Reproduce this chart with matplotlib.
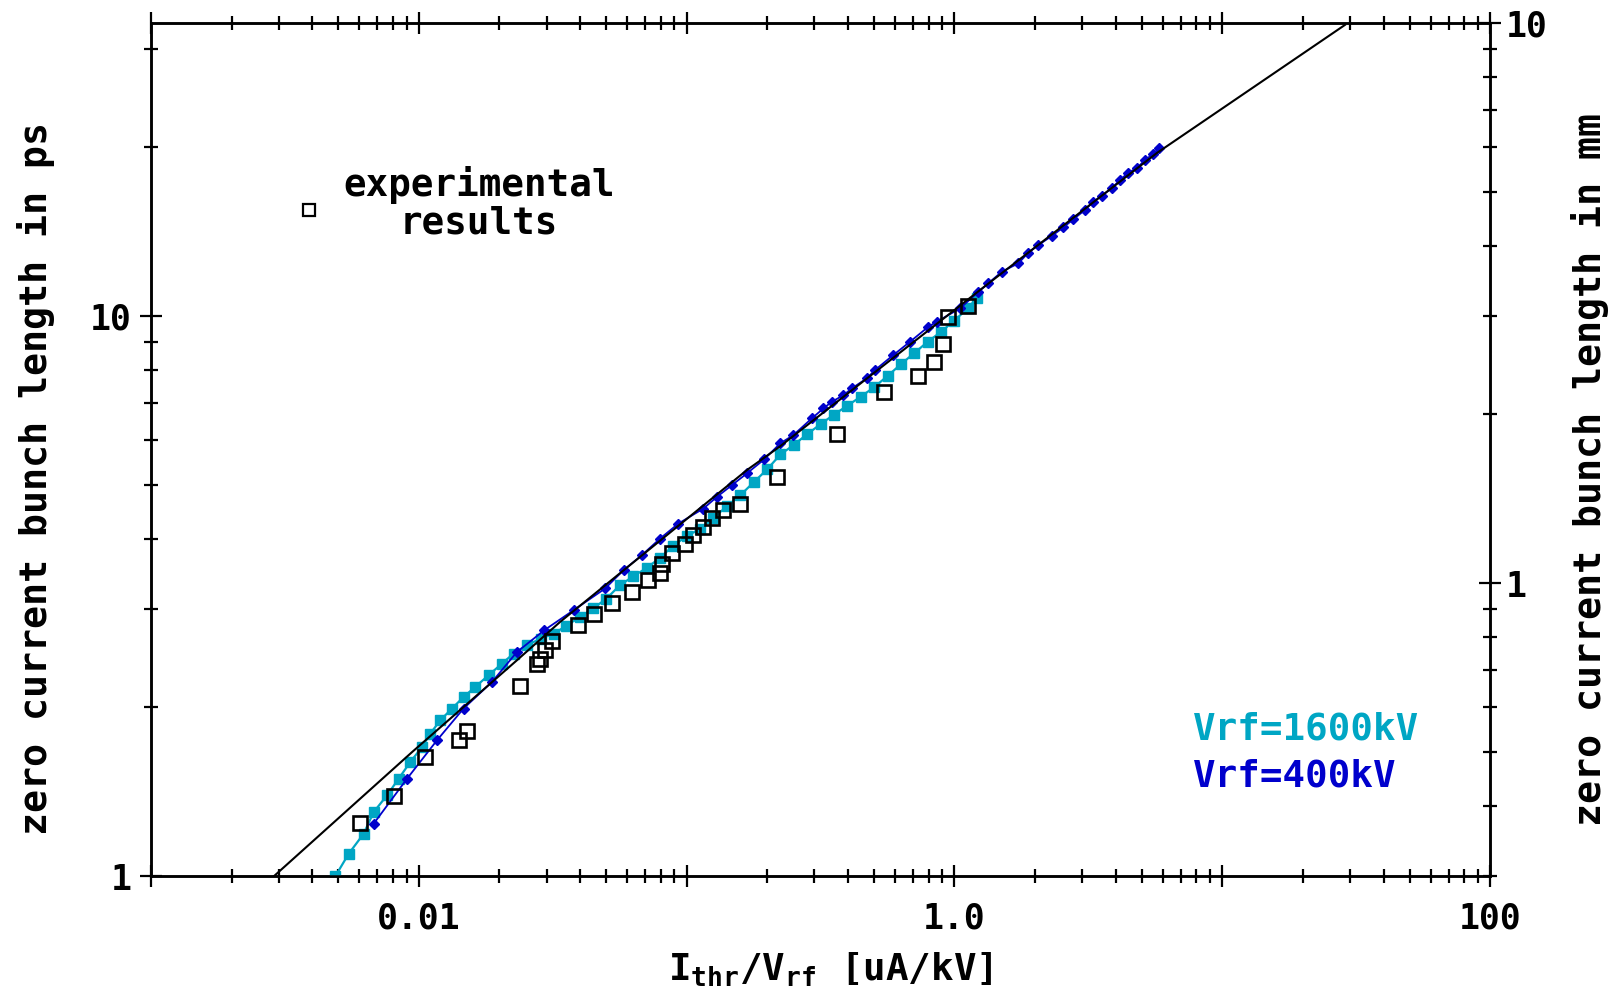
import matplotlib
matplotlib.use("Agg")
import matplotlib.pyplot as plt
from matplotlib.ticker import FixedLocator, FixedFormatter, NullFormatter, LogLocator

# ---------------- data ----------------
# theoretical curve (black)
theory_x = [0.00288, 0.00942, 0.0232, 0.0337, 0.168, 0.223, 1.246, 5.69, 28.7]
theory_y = [1.0, 1.664, 2.427, 2.844, 5.31, 5.85, 11.13, 19.54, 33.1]

# Vrf = 1600 kV (cyan)
cyan_x = [0.00488, 0.00547, 0.00622, 0.00678, 0.00760, 0.00840, 0.00929, 0.01027,
          0.01103, 0.01202, 0.01329, 0.01468, 0.01623, 0.01820, 0.02042, 0.02257,
          0.02532, 0.0285, 0.0320, 0.0355, 0.0398, 0.0447, 0.0501, 0.0562, 0.0631,
          0.0708, 0.0794, 0.0891, 0.100, 0.1122, 0.1259, 0.1413, 0.1585, 0.1778,
          0.1995, 0.2239, 0.2512, 0.2818, 0.3162, 0.3548, 0.3981, 0.4467, 0.5012,
          0.5623, 0.6310, 0.7079, 0.7943, 0.8913, 1.0, 1.122, 1.211]
cyan_y = [1.0, 1.096, 1.190, 1.301, 1.393, 1.492, 1.598, 1.699,
          1.796, 1.897, 1.991, 2.088, 2.176, 2.283, 2.395, 2.496,
          2.583, 2.655, 2.710, 2.799, 2.897, 3.006, 3.126, 3.304, 3.428,
          3.548, 3.698, 3.890, 4.046, 4.169, 4.365, 4.571, 4.786, 5.047,
          5.321, 5.66, 5.888, 6.152, 6.412, 6.668, 6.918, 7.178, 7.464,
          7.816, 8.204, 8.590, 8.995, 9.376, 9.817, 10.33, 10.76]

# Vrf = 400 kV (blue)
blue_x = [0.00678, 0.00903, 0.01168, 0.01468, 0.01875, 0.02323, 0.0294, 0.0378,
          0.0496, 0.0581, 0.0680, 0.0796, 0.0932, 0.1155, 0.1296, 0.1475, 0.1678,
          0.195, 0.2234, 0.2504, 0.2934, 0.3241, 0.3483, 0.3848, 0.4136, 0.4706,
          0.5053, 0.5913, 0.6829, 0.799, 0.859, 1.049, 1.228, 1.338, 1.502, 1.732,
          1.888, 2.057, 2.308, 2.551, 2.779, 3.073, 3.300, 3.548, 3.866, 4.152,
          4.459, 4.792, 5.147, 5.527, 5.82]
blue_y = [1.240, 1.492, 1.747, 1.991, 2.221, 2.512, 2.748, 2.983,
          3.262, 3.517, 3.741, 4.006, 4.261, 4.532, 4.753, 4.989, 5.236,
          5.55, 5.923, 6.13, 6.566, 6.84, 7.03, 7.22, 7.427, 7.74,
          8.01, 8.52, 9.00, 9.57, 9.77, 10.32, 11.05, 11.44, 12.0, 12.42,
          12.98, 13.39, 13.9, 14.4, 14.89, 15.47, 16.01, 16.39, 16.92, 17.50,
          18.04, 18.36, 19.0, 19.48, 19.94]

# experimental results (open squares)
exp_x = [0.00604, 0.00810, 0.01057, 0.01406, 0.01512, 0.0239, 0.0276, 0.0284,
         0.0296, 0.0315, 0.0394, 0.0449, 0.0526, 0.0624, 0.0720, 0.0796, 0.0808,
         0.0881, 0.0988, 0.1060, 0.1155, 0.1242, 0.1372, 0.1584, 0.2183, 0.3636,
         0.5460, 0.7295, 0.8413, 0.9043, 0.9489, 1.127]
exp_y = [1.243, 1.389, 1.631, 1.752, 1.815, 2.182, 2.388, 2.445,
         2.530, 2.626, 2.804, 2.934, 3.074, 3.216, 3.375, 3.478, 3.615,
         3.776, 3.914, 4.061, 4.203, 4.350, 4.502, 4.613, 5.163, 6.146,
         7.306, 7.82, 8.285, 8.900, 9.947, 10.43]

x_major = [0.001, 0.01, 0.1, 1, 10, 100]
x_labels = ['', '0.01', '', '1.0', '', '100']
y_major = [1, 10]
y_labels = ['1', '10']
mm_major = [1, 10]
mm_labels = ['1', '10']

C_MM_PER_PS = 0.29979
Y_TOP = 10 / C_MM_PER_PS

# ---------------- style ----------------
FONT = 'DejaVu Sans Mono'
plt.rcParams['font.family'] = [FONT, 'DejaVu Sans']
plt.rcParams['font.weight'] = 'bold'
plt.rcParams['mathtext.fontset'] = 'custom'
plt.rcParams['mathtext.rm'] = FONT + ':bold'
plt.rcParams['mathtext.it'] = FONT + ':bold'
plt.rcParams['mathtext.bf'] = FONT + ':bold'

CYAN = '#00A6C4'
BLUE = '#0000CC'

fig = plt.figure(figsize=(16.19, 10.02), dpi=100)
ax = fig.add_axes([0.0933, 0.1257, 0.8271, 0.8513])

ax.set_xscale('log')
ax.set_yscale('log')
ax.set_xlim(0.001, 100)
ax.set_ylim(1, Y_TOP)

ax.plot(cyan_x, cyan_y, color=CYAN, lw=1.6, marker='s', ms=6.5, mec=CYAN, mfc=CYAN, zorder=3)
ax.plot(blue_x, blue_y, color=BLUE, lw=1.3, marker='D', ms=5.5, mec=BLUE, mfc=BLUE, zorder=4)
ax.plot(theory_x, theory_y, color='black', lw=1.5, zorder=5)
ax.plot(exp_x, exp_y, ls='none', marker='s', ms=9.5, mfc='none', mec='black', mew=1.9, zorder=6)

# ticks
ax.xaxis.set_major_locator(FixedLocator(x_major))
ax.xaxis.set_major_formatter(FixedFormatter(x_labels))
ax.xaxis.set_minor_locator(LogLocator(base=10, subs=range(2, 10), numticks=20))
ax.xaxis.set_minor_formatter(NullFormatter())
ax.yaxis.set_major_locator(FixedLocator(y_major))
ax.yaxis.set_major_formatter(FixedFormatter(y_labels))
ax.yaxis.set_minor_locator(LogLocator(base=10, subs=range(2, 10), numticks=20))
ax.yaxis.set_minor_formatter(NullFormatter())

ax.tick_params(which='major', direction='inout', length=16, width=1.6, top=True,
               labelsize=25, pad=6)
ax.tick_params(which='minor', direction='inout', length=10, width=1.6, top=True)
ax.tick_params(axis='x', which='major', pad=10)
for s in ax.spines.values():
    s.set_linewidth(1.8)

ax2 = ax.twinx()
ax2.set_yscale('log')
ax2.set_ylim(1 * C_MM_PER_PS, Y_TOP * C_MM_PER_PS)
ax2.yaxis.set_major_locator(FixedLocator(mm_major))
ax2.yaxis.set_major_formatter(FixedFormatter(mm_labels))
ax2.yaxis.set_minor_locator(LogLocator(base=10, subs=range(2, 10), numticks=20))
ax2.yaxis.set_minor_formatter(NullFormatter())
ax2.tick_params(which='major', direction='inout', length=16, width=1.6, labelsize=25, pad=3)
ax2.tick_params(which='minor', direction='inout', length=10, width=1.6)
for s in ax2.spines.values():
    s.set_linewidth(1.8)

for lab in ax.get_xticklabels() + ax.get_yticklabels() + ax2.get_yticklabels():
    lab.set_fontweight('bold')

# axis labels
fig.text(0.0222, 0.522, 'zero current bunch length in ps', rotation=90,
         ha='center', va='center', fontsize=27.5, fontweight='bold')
fig.text(0.982, 0.531, 'zero current bunch length in mm', rotation=90,
         ha='center', va='center', fontsize=27.5, fontweight='bold')
fig.text(0.513, 0.032, r'I$_{\mathregular{thr}}$/V$_{\mathregular{rf}}$ [uA/kV]',
         ha='center', va='center', fontsize=27, fontweight='bold')

# legend-like annotations
ax.plot([0.1909], [0.7904], transform=fig.transFigure, marker='s', ms=8,
        mfc='none', mec='black', mew=1.6, ls='none', clip_on=False)
fig.text(0.296, 0.797, 'experimental\nresults', ha='center', va='center',
         fontsize=27, fontweight='bold', linespacing=1.05, multialignment='center')
fig.text(0.7369, 0.2715, 'Vrf=1600kV', ha='left', va='center', fontsize=27,
         fontweight='bold', color=CYAN)
fig.text(0.7369, 0.2255, 'Vrf=400kV', ha='left', va='center', fontsize=27,
         fontweight='bold', color=BLUE)

fig.savefig('out.png', dpi=100)
